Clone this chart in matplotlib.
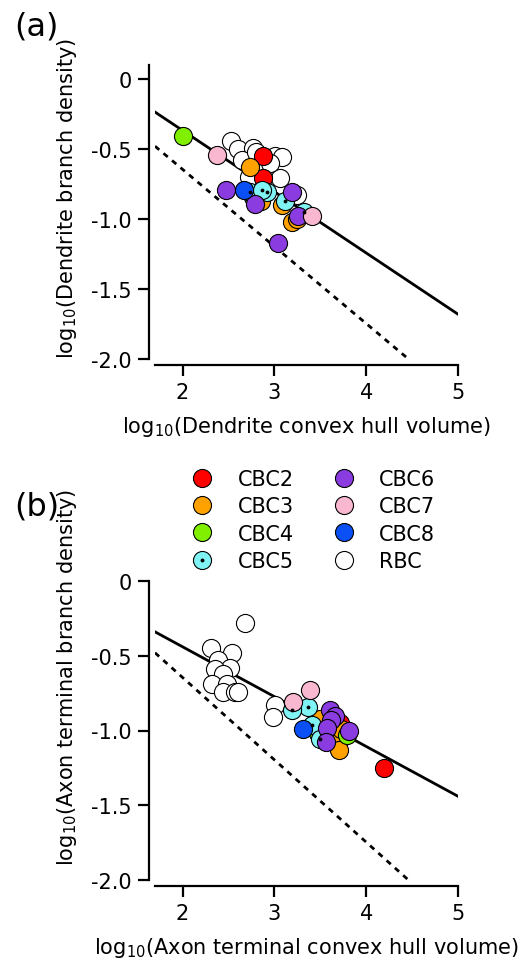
import matplotlib
matplotlib.use("Agg")
import matplotlib.pyplot as plt
from matplotlib.ticker import FixedLocator, FixedFormatter

plt.rcParams['font.family'] = ['DejaVu Sans']
plt.rcParams['axes.unicode_minus'] = False

# cell types and colours
cell_types = ['CBC2', 'CBC3', 'CBC4', 'CBC5', 'CBC6', 'CBC7', 'CBC8', 'RBC']
cell_colors = ['#ff0000', '#ffa200', '#80f000', '#80f4f4', '#8a3ce0', '#f9b8d0', '#0a50f5', '#ffffff']

# (a) dendrites: log10 convex hull volume, log10 branch density
dend_x = {
    'RBC':  [2.53, 2.60, 2.77, 2.65, 3.01, 3.08, 3.06, 3.25, 2.95, 2.80, 2.72],
    'CBC2': [2.88, 2.88],
    'CBC3': [2.74, 2.85, 3.08, 3.19, 3.25],
    'CBC4': [2.00, 2.77],
    'CBC5': [2.74, 2.92, 3.12, 3.32, 2.86],
    'CBC6': [2.47, 2.79, 3.19, 3.26, 3.04],
    'CBC7': [2.37, 3.41],
    'CBC8': [2.67],
}
dend_y = {
    'RBC':  [-0.44, -0.50, -0.49, -0.58, -0.55, -0.56, -0.71, -0.83, -0.60, -0.52, -0.70],
    'CBC2': [-0.55, -0.71],
    'CBC3': [-0.63, -0.87, -0.90, -1.02, -1.00],
    'CBC4': [-0.41, -0.84],
    'CBC5': [-0.81, -0.81, -0.87, -0.95, -0.79],
    'CBC6': [-0.79, -0.89, -0.81, -0.98, -1.17],
    'CBC7': [-0.54, -0.98],
    'CBC8': [-0.79],
}

# (b) axon terminals
axon_x = {
    'RBC':  [2.68, 2.31, 2.54, 2.39, 2.52, 2.35, 2.44, 2.32, 2.48, 2.44, 2.57, 2.60, 3.01, 2.98],
    'CBC2': [4.19, 3.72],
    'CBC3': [3.50, 3.72, 3.70, 3.73],
    'CBC4': [3.79, 3.48],
    'CBC5': [3.37, 3.19, 3.41, 3.50],
    'CBC6': [3.61, 3.66, 3.62, 3.57, 3.81, 3.56],
    'CBC7': [3.39, 3.20],
    'CBC8': [3.31],
}
axon_y = {
    'RBC':  [-0.28, -0.45, -0.48, -0.53, -0.58, -0.59, -0.62, -0.69, -0.69, -0.74, -0.74, -0.74, -0.83, -0.91],
    'CBC2': [-1.25, -0.95],
    'CBC3': [-0.92, -1.06, -1.13, -0.99],
    'CBC4': [-1.03, -1.02],
    'CBC5': [-0.84, -0.86, -0.96, -1.06],
    'CBC6': [-0.86, -0.90, -0.93, -0.98, -1.00, -1.08],
    'CBC7': [-0.73, -0.81],
    'CBC8': [-0.99],
}

# fitted lines and reference line (endpoints)
fit_x = [1.7, 5.0]
fit_a_y = [-0.236, -1.68]
fit_b_y = [-0.34, -1.44]
ref_x = [1.7, 4.46]
ref_y = [-0.48, -2.0]

x_ticks = [2, 3, 4, 5]
y_ticks = [0, -0.5, -1.0, -1.5, -2.0]
y_ticklabels = ['0', '-0.5', '-1.0', '-1.5', '-2.0']

FS = 15
MS = 170


def style_axes(ax, ylim):
    ax.set_xlim(1.7, 5.0)
    ax.set_ylim(*ylim)
    for s in ['top', 'right']:
        ax.spines[s].set_visible(False)
    for s in ['left', 'bottom']:
        ax.spines[s].set_linewidth(1.6)
        ax.spines[s].set_position(('outward', 4.5))
    ax.xaxis.set_major_locator(FixedLocator(x_ticks))
    ax.yaxis.set_major_locator(FixedLocator(y_ticks))
    ax.yaxis.set_major_formatter(FixedFormatter(y_ticklabels))
    ax.tick_params(direction='out', length=8, width=1.6, labelsize=FS, pad=4)
    ax.patch.set_visible(False)


def draw_points(ax, xs, ys):
    # RBC first so the coloured cells sit on top
    for name, col in zip(['RBC'] + cell_types[:-1], ['#ffffff'] + cell_colors[:-1]):
        ax.scatter(xs[name], ys[name], s=MS, c=col, edgecolors='black',
                   linewidths=0.8, zorder=3, clip_on=False)
        if name == 'CBC5':
            ax.scatter(xs[name], ys[name], s=3, c='black', zorder=3.1, clip_on=False)


fig = plt.figure(figsize=(5.27, 9.70), dpi=100)

# ---- panel (a)
ax1 = fig.add_axes([155/527, 1-360/970, 303/527, 294/970])
style_axes(ax1, (-2.0, 0.1))
ax1.plot(fit_x, fit_a_y, color='black', lw=2.0, zorder=2)
ax1.plot(ref_x, ref_y, color='black', lw=2.0, ls=(0, (2, 2)), zorder=2)
draw_points(ax1, dend_x, dend_y)
ax1.set_xlabel('log$_{10}$(Dendrite convex hull volume)', fontsize=FS, labelpad=9)
ax1.set_ylabel('log$_{10}$(Dendrite branch density)', fontsize=FS)
ax1.yaxis.set_label_coords(-0.25, 0.55)

# ---- panel (b)
ax2 = fig.add_axes([155/527, 1-881/970, 303/527, 299/970])
style_axes(ax2, (-2.0, 0.0))
ax2.plot(fit_x, fit_b_y, color='black', lw=2.0, zorder=2)
ax2.plot(ref_x, ref_y, color='black', lw=2.0, ls=(0, (2, 2)), zorder=2)
draw_points(ax2, axon_x, axon_y)
ax2.set_xlabel('log$_{10}$(Axon terminal convex hull volume)', fontsize=FS, labelpad=9)
ax2.set_ylabel('log$_{10}$(Axon terminal branch density)', fontsize=FS)
ax2.yaxis.set_label_coords(-0.25, 0.68)

# ---- legend
handles = []
for name, col in zip(cell_types, cell_colors):
    h = plt.Line2D([], [], ls='none', marker='o', markersize=13, markerfacecolor=col,
                   markeredgecolor='black', markeredgewidth=0.8)
    if name == 'CBC5':
        dot = plt.Line2D([], [], ls='none', marker='o', markersize=1.8,
                         markerfacecolor='black', markeredgecolor='black')
        h = (h, dot)
    handles.append(h)
fig.legend(handles, cell_types, ncol=2, loc='upper left',
           bbox_to_anchor=(192/527, 1-470/970), frameon=False, fontsize=FS,
           handlelength=1.0, handletextpad=1.2, columnspacing=1.9,
           labelspacing=0.35, borderpad=0, borderaxespad=0)

fig.text(14/527, 1-12/970, '(a)', fontsize=23, va='top', ha='left')
fig.text(14/527, 1-492/970, '(b)', fontsize=23, va='top', ha='left')

fig.savefig('out.png', dpi=100)
